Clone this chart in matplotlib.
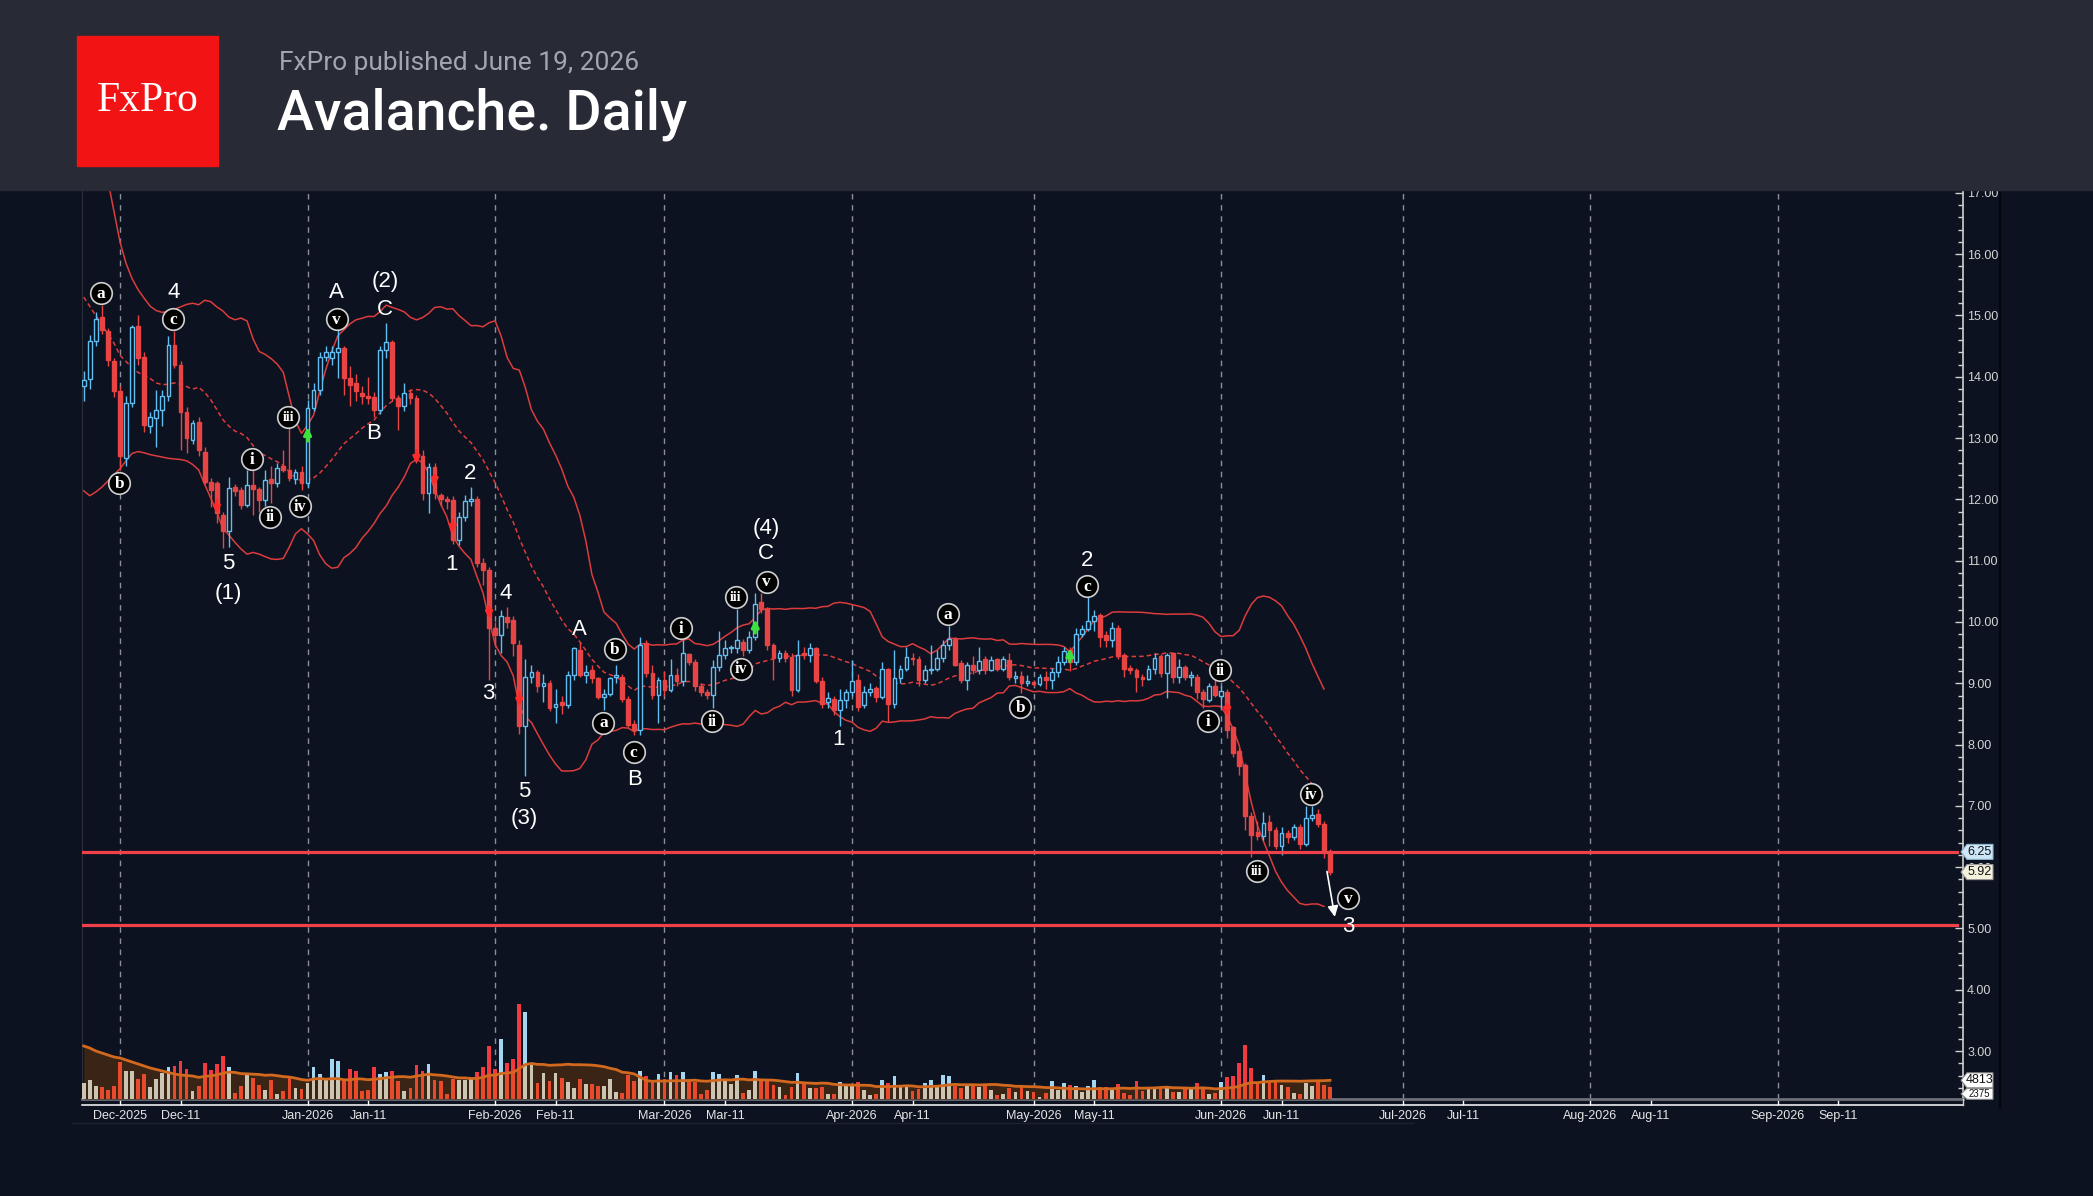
import numpy as np
import pandas as pd
import matplotlib
matplotlib.use('Agg')
import matplotlib.pyplot as plt
import matplotlib.dates as mdates
import matplotlib.ticker as mticker
import matplotlib.transforms as mtrans
from matplotlib.patches import Rectangle, Polygon
from matplotlib.lines import Line2D

# ---------------- data ----------------
start_date = '2025-11-25'

opens = [13.85, 13.96, 14.59, 14.97, 14.74, 14.25, 13.76, 12.67, 13.57, 14.83,
         14.33, 13.19, 13.32, 13.46, 13.68, 14.52, 14.19, 13.43, 12.97, 13.27,
         12.78, 12.29, 12.26, 11.75, 11.48, 12.20, 12.16, 11.91, 12.24, 12.17,
         11.99, 12.33, 12.26, 12.54, 12.48, 12.33, 12.45, 12.26, 13.49, 13.79,
         14.33, 14.30, 14.41, 14.47, 13.98, 13.90, 13.74, 13.68, 13.67, 13.46,
         14.44, 14.57, 13.65, 13.52, 13.73, 13.65, 12.70, 12.10, 12.53, 12.07,
         11.99, 11.99, 11.34, 11.72, 11.97, 12.00, 10.96, 10.85, 9.91, 9.79,
         10.08, 10.03, 9.62, 8.30, 9.11, 9.18, 8.96, 9.01, 8.61, 8.69,
         8.65, 9.14, 9.55, 9.14, 9.22, 9.08, 8.78, 8.83, 9.10, 9.11,
         8.74, 8.34, 8.24, 9.65, 9.17, 8.81, 9.06, 8.89, 9.14, 9.03,
         9.48, 9.35, 8.96, 8.86, 8.81, 9.27, 9.46, 9.57, 9.57, 9.68,
         9.54, 9.76, 10.32, 10.22, 9.62, 9.41, 9.49, 9.43, 8.89, 9.50,
         9.46, 9.57, 9.03, 8.70, 8.74, 8.57, 8.73, 8.86, 9.06, 8.65,
         8.86, 8.92, 8.78, 9.24, 8.67, 9.08, 9.24, 9.42, 9.39, 9.05,
         9.21, 9.24, 9.41, 9.63, 9.72, 9.33, 9.05, 9.30, 9.22, 9.39,
         9.22, 9.39, 9.24, 9.38, 9.09, 9.12, 9.00, 9.00, 8.99, 9.11,
         9.05, 9.18, 9.35, 9.54, 9.35, 9.81, 9.88, 10.01, 10.11, 9.79,
         9.71, 9.91, 9.46, 9.24, 9.22, 9.10, 9.07, 9.24, 9.44, 9.17,
         9.49, 9.11, 9.27, 9.11, 9.11, 8.86, 8.73, 8.95, 8.80, 8.86,
         8.28, 7.90, 7.67, 6.84, 6.58, 6.51, 6.74, 6.61, 6.35, 6.56,
         6.50, 6.65, 6.38, 6.81, 6.87, 6.71, 6.27]

highs = [14.10, 14.68, 15.06, 15.17, 14.80, 14.30, 13.85, 13.68, 14.85, 15.01,
         14.40, 13.42, 13.79, 13.79, 14.67, 14.74, 14.25, 13.50, 13.30, 13.35,
         12.85, 12.35, 12.30, 11.80, 12.37, 12.25, 12.20, 12.48, 12.48, 12.20,
         12.48, 12.54, 12.60, 12.81, 13.46, 12.50, 12.55, 13.62, 13.90, 14.40,
         14.50, 14.50, 14.77, 14.50, 14.17, 14.05, 13.85, 14.00, 13.75, 14.50,
         14.87, 14.60, 13.70, 13.90, 13.80, 13.70, 12.80, 12.60, 12.60, 12.10,
         12.05, 12.05, 11.80, 12.07, 12.21, 12.05, 11.05, 10.90, 10.00, 10.20,
         10.25, 10.10, 9.70, 9.40, 9.30, 9.22, 9.15, 9.05, 8.90, 8.80,
         9.20, 9.60, 9.68, 9.30, 9.30, 9.10, 8.90, 9.10, 9.30, 9.15,
         8.80, 8.40, 9.76, 9.70, 9.30, 9.10, 9.20, 9.40, 9.25, 9.70,
         9.50, 9.40, 9.00, 8.90, 9.38, 9.85, 9.70, 9.62, 10.22, 9.72,
         9.85, 10.47, 10.47, 10.25, 9.65, 9.55, 9.55, 9.50, 9.70, 9.60,
         9.65, 9.60, 9.10, 8.85, 8.80, 8.90, 8.90, 9.38, 9.15, 8.95,
         9.00, 8.95, 9.35, 9.25, 9.55, 9.30, 9.60, 9.50, 9.45, 9.30,
         9.62, 9.55, 9.70, 9.94, 9.76, 9.38, 9.35, 9.45, 9.60, 9.45,
         9.45, 9.42, 9.45, 9.50, 9.20, 9.20, 9.14, 9.05, 9.15, 9.20,
         9.25, 9.45, 9.60, 9.60, 9.90, 9.95, 10.41, 10.20, 10.15, 9.85,
         10.00, 9.95, 9.50, 9.30, 9.25, 9.15, 9.30, 9.50, 9.48, 9.50,
         9.50, 9.40, 9.30, 9.20, 9.15, 8.90, 9.00, 9.05, 8.95, 8.90,
         8.30, 7.95, 7.70, 6.90, 6.75, 6.90, 6.85, 6.65, 6.65, 6.60,
         6.70, 6.70, 7.00, 7.00, 6.95, 6.75, 6.30]

lows = [13.60, 13.80, 14.50, 14.70, 14.17, 13.67, 12.48, 12.55, 13.50, 14.20,
        13.10, 13.08, 12.86, 13.20, 13.60, 14.15, 12.81, 12.76, 12.90, 12.70,
        12.25, 11.88, 11.61, 11.20, 11.23, 12.05, 11.85, 11.88, 11.75, 11.80,
        11.90, 11.94, 12.20, 12.45, 12.30, 12.25, 12.15, 12.20, 13.45, 13.70,
        14.25, 14.20, 13.98, 13.70, 13.52, 13.60, 13.55, 13.55, 13.35, 13.40,
        14.30, 13.60, 13.13, 13.45, 13.55, 12.60, 11.99, 11.77, 12.00, 11.90,
        11.85, 11.28, 11.25, 11.65, 11.90, 10.90, 10.60, 9.05, 9.60, 9.50,
        9.90, 9.45, 8.18, 7.48, 9.00, 8.85, 8.70, 8.55, 8.35, 8.50,
        8.60, 9.05, 9.10, 9.00, 9.00, 8.75, 8.57, 8.80, 9.00, 8.70,
        8.28, 8.16, 8.15, 9.10, 8.75, 8.35, 8.80, 8.85, 8.95, 8.95,
        9.30, 8.88, 8.80, 8.75, 8.60, 9.20, 9.40, 9.50, 9.50, 9.45,
        9.50, 9.70, 10.15, 9.55, 9.05, 9.35, 9.35, 8.80, 8.85, 9.40,
        9.35, 9.00, 8.60, 8.60, 8.48, 8.30, 8.60, 8.80, 8.55, 8.60,
        8.80, 8.70, 8.75, 8.37, 8.60, 9.00, 9.20, 9.30, 8.95, 9.00,
        9.15, 9.20, 9.35, 9.55, 9.28, 9.00, 8.89, 9.15, 9.15, 9.15,
        9.20, 9.20, 9.20, 9.05, 9.00, 8.84, 8.95, 8.95, 8.95, 8.90,
        8.90, 9.10, 9.30, 9.20, 9.30, 9.75, 9.85, 9.85, 9.60, 9.60,
        9.60, 9.40, 9.10, 9.15, 8.86, 8.95, 9.05, 9.15, 9.10, 8.76,
        9.00, 9.00, 9.05, 8.95, 8.75, 8.60, 8.70, 8.78, 8.60, 8.10,
        7.80, 7.50, 6.60, 6.17, 6.45, 6.45, 6.35, 6.30, 6.20, 6.40,
        6.45, 6.30, 6.35, 6.75, 6.65, 6.15, 5.88]

closes = [13.95, 14.59, 14.94, 14.77, 14.28, 13.76, 12.70, 13.57, 14.82, 14.30,
          13.22, 13.35, 13.46, 13.68, 14.52, 14.19, 13.43, 13.00, 13.24, 12.81,
          12.29, 12.15, 11.77, 11.48, 12.18, 12.13, 11.91, 12.24, 12.17, 11.99,
          12.32, 12.26, 12.51, 12.48, 12.35, 12.44, 12.26, 13.49, 13.79, 14.33,
          14.41, 14.41, 14.47, 13.98, 13.87, 13.76, 13.68, 13.65, 13.46, 14.44,
          14.57, 13.65, 13.52, 13.73, 13.65, 12.70, 12.10, 12.53, 12.10, 12.00,
          11.97, 11.34, 11.72, 11.97, 12.01, 10.96, 10.85, 9.90, 9.79, 10.09,
          10.00, 9.65, 8.30, 9.11, 9.18, 8.96, 9.00, 8.59, 8.67, 8.65,
          9.14, 9.57, 9.14, 9.19, 9.08, 8.78, 8.83, 9.08, 9.11, 8.74,
          8.32, 8.24, 9.62, 9.16, 8.81, 9.05, 8.89, 9.14, 9.03, 9.49,
          9.35, 8.95, 8.86, 8.81, 9.27, 9.46, 9.57, 9.58, 9.70, 9.54,
          9.76, 10.30, 10.22, 9.62, 9.41, 9.49, 9.42, 8.89, 9.46, 9.46,
          9.57, 9.03, 8.67, 8.76, 8.57, 8.73, 8.86, 9.04, 8.62, 8.86,
          8.90, 8.78, 9.24, 8.67, 9.08, 9.24, 9.43, 9.39, 9.05, 9.21,
          9.24, 9.41, 9.63, 9.72, 9.30, 9.05, 9.30, 9.22, 9.37, 9.22,
          9.38, 9.24, 9.39, 9.11, 9.12, 9.01, 9.01, 8.99, 9.11, 9.05,
          9.18, 9.35, 9.52, 9.35, 9.81, 9.88, 10.01, 10.10, 9.76, 9.71,
          9.91, 9.44, 9.23, 9.22, 9.10, 9.07, 9.24, 9.41, 9.17, 9.46,
          9.11, 9.27, 9.11, 9.13, 8.86, 8.74, 8.95, 8.81, 8.88, 8.24,
          7.86, 7.65, 6.83, 6.53, 6.51, 6.72, 6.61, 6.35, 6.56, 6.50,
          6.65, 6.38, 6.81, 6.85, 6.71, 6.27, 5.92]

volumes = [16, 19.3, 13.3, 12, 8.7, 13.3, 36.7, 28.3, 28.3, 20,
           24.7, 12, 20, 26, 32, 32.7, 37.7, 30.3, 7.7, 13.3,
           36, 29.3, 35, 43.3, 32, 6, 13.3, 23.7, 21, 14.3,
           8.7, 18.7, 5.3, 7.7, 22.7, 11, 10, 16, 32, 25,
           20.3, 40, 37.7, 19.3, 30.3, 28.3, 7.7, 9.3, 31.7, 25,
           27, 28.3, 17.7, 7.7, 11, 34.3, 28.3, 35.3, 18.7, 17.7,
           5.3, 20, 19.3, 18.7, 20, 27, 31.7, 52.7, 30.3, 60,
           36, 40, 95, 87, 34, 16, 26, 17.7, 26, 21,
           16.7, 10.7, 20, 15.3, 15.3, 13.3, 13.3, 20, 6.7, 6,
           23.7, 17.7, 28.3, 22.7, 16.7, 25, 20.3, 27, 23.7, 27,
           17.7, 16.7, 5.3, 8.7, 27, 25, 19.3, 15.3, 23.7, 6,
           8.7, 28.3, 17.7, 20, 14.3, 12, 4.3, 12, 26, 16,
           11, 11, 12, 5.3, 5.3, 16.7, 15, 15, 16.7, 8.7,
           4.3, 5.3, 19.3, 16, 22.7, 13.3, 13.3, 7.7, 10, 16,
           19.3, 13.3, 23.7, 22.7, 12.7, 11, 15, 15, 12, 13.3,
           8.7, 4.3, 5.3, 11, 6.7, 12.7, 7.7, 6.7, 2.3, 5.7,
           18, 9, 15.7, 14, 13, 7.3, 13, 19, 11.7, 11.7,
           10.7, 15, 5.7, 4, 17.7, 8.3, 9.7, 9.7, 11.7, 11.7,
           7.3, 7.3, 11.7, 9.7, 16.3, 11.7, 5, 6.3, 17, 22.3,
           23.3, 36.3, 53.7, 31.3, 16.3, 24, 16.3, 18.3, 14, 11.7,
           5.7, 4.7, 16.3, 13, 17.3, 14, 11.7]

# indicator values for the first 19 sessions (their 20-day window is off-chart)
bb_upper_start = [19.0, 18.5, 18.0, 17.5, 17.2, 16.7, 16.2, 15.85, 15.6, 15.42,
                  15.28, 15.15, 15.08, 15.05, 15.07, 15.1, 15.14, 15.18, 15.2]
bb_mid_start = [15.3, 15.15, 15.0, 14.85, 14.7, 14.55, 14.35, 14.25, 14.15, 14.07,
                14.02, 13.97, 13.9, 13.87, 13.88, 13.9, 13.88, 13.84, 13.8]
bb_lower_start = [12.14, 12.06, 12.12, 12.2, 12.3, 12.4, 12.5, 12.63, 12.75, 12.78,
                  12.76, 12.73, 12.71, 12.69, 12.67, 12.66, 12.65, 12.63, 12.57]
vol_ma_start = [53, 51, 48, 46, 44, 42, 41, 39, 37, 35, 33, 31, 29.5, 28, 26.5,
                25, 24, 23.5, 23]

levels = [6.25, 5.06]

# Elliott wave labels: (text, day offset from start, price)
wave_plain = [('4', 14.8, 15.37), ('5', 23.9, 10.96), ('(1)', 23.9, 10.47),
              ('A', 41.8, 15.37), ('(2)', 49.9, 15.56), ('C', 49.8, 15.09),
              ('B', 47.9, 13.08), ('1', 60.8, 10.93), ('2', 63.9, 12.42),
              ('3', 66.9, 8.84), ('4', 69.7, 10.47), ('5', 72.8, 7.23),
              ('(3)', 72.8, 6.80), ('A', 81.9, 9.88), ('B', 91.0, 7.43),
              ('C', 112.8, 11.12), ('(4)', 112.8, 11.53), ('1', 124.8, 8.08),
              ('2', 165.8, 11.01), ('3', 209.0, 5.04)]
wave_circled = [('a', 2.8, 15.37), ('b', 5.9, 12.26), ('c', 14.8, 14.94),
                ('i', 27.8, 12.66), ('ii', 30.8, 11.72), ('iii', 33.8, 13.35),
                ('iv', 35.75, 11.89), ('v', 41.8, 14.94), ('a', 85.9, 8.36),
                ('b', 87.8, 9.56), ('c', 90.9, 7.88), ('i', 98.8, 9.90),
                ('ii', 103.8, 8.39), ('iii', 107.8, 10.41), ('iv', 108.7, 9.24),
                ('v', 112.9, 10.66), ('a', 142.8, 10.13), ('b', 154.8, 8.62),
                ('c', 165.8, 10.58), ('i', 185.8, 8.38), ('ii', 187.8, 9.21),
                ('iii', 193.9, 5.94), ('iv', 202.8, 7.19), ('v', 209.0, 5.49)]

# signal arrows: (day offset, tail price, head price)
green_arrows = [(37, 12.95, 13.18), (111, 9.82, 10.04), (163, 9.35, 9.57)]
red_arrows = [(22, 12.0, 11.77), (55, 12.8, 12.58), (58, 12.4, 12.22),
              (61, 11.66, 11.45), (67, 10.25, 10.05), (72, 8.86, 8.62),
              (189, 8.66, 8.47)]
forecast_arrow = (205.5, 5.93, 206.8, 5.19)

tag_price_last = '6.25'
tag_close = '5.92'
tag_vol_ma = '4813'
tag_vol = '2375'

# ---------------- style ----------------
W, H = 2093, 1196
BG = '#0c1220'
HEADER = '#282a36'
BLUE = '#62bdf0'
RED = '#e84444'
BBRED = '#dc3c3c'
SANS = ['Liberation Sans', 'DejaVu Sans']
SERIF = ['Liberation Serif', 'DejaVu Serif']

fig = plt.figure(figsize=(W / 100, H / 100), dpi=100)
fig.patch.set_facecolor(BG)


def fx(px):
    return px / W


def fy(py):
    return 1 - py / H


L_PX, R_PX, T_PX, B_PX = 81.7, 1963.0, 190.0, 1099.0
ax = fig.add_axes([fx(L_PX), fy(B_PX), (R_PX - L_PX) / W, (B_PX - T_PX) / H])
ax.set_facecolor(BG)
vax = fig.add_axes([fx(L_PX), fy(B_PX), (R_PX - L_PX) / W, 100 / H])
vax.set_facecolor('none')

dates = pd.date_range(start_date, periods=len(closes), freq='D')
x = mdates.date2num(dates)
x0 = x[0]
o = np.array(opens); h = np.array(highs); l = np.array(lows); c = np.array(closes)
up = c >= o

ax.set_xlim(x0 - 0.331, x0 + 310.63)
ax.set_ylim(2.2186, 17.047)
vax.set_xlim(ax.get_xlim())
vax.set_ylim(0, 100)

# month separators
for md in pd.date_range('2025-12-01', '2026-09-01', freq='MS'):
    ax.axvline(mdates.date2num(md), color='#8a8f99', lw=1.0, dashes=(4, 4), zorder=1)

# Bollinger bands (20, 2)
cs = pd.Series(closes)
mid = cs.rolling(20).mean().to_numpy()
sd = cs.rolling(20).std(ddof=0).to_numpy()
bb_u = mid + 2 * sd
bb_l = mid - 2 * sd
n0 = len(bb_upper_start)
bb_u[:n0] = bb_upper_start
bb_l[:n0] = bb_lower_start
mid[:n0] = bb_mid_start
end = len(closes) - 1
ax.plot(x[:end], bb_u[:end], color=BBRED, lw=1.1, zorder=2)
ax.plot(x[:end], bb_l[:end], color=BBRED, lw=1.1, zorder=2)
ax.plot(x[:end], mid[:end], color=BBRED, lw=1.1, dashes=(3, 2), zorder=2)

# candles
col = np.where(up, BLUE, RED)
ax.vlines(x, l, h, colors=col, lw=1.0, zorder=3)
body_b = np.minimum(o, c)
body_h = np.maximum(np.abs(c - o), 0.03)
ax.bar(x, body_h, bottom=body_b, width=0.62, color=np.where(up, BG, RED),
       edgecolor=col, linewidth=1.0, zorder=4)

# levels
for lv in levels:
    ax.axhline(lv, xmin=0, xmax=0.9968, color='#f0404a', lw=2.3, zorder=5)

# signal arrows
for d, p0, p1 in green_arrows:
    ax.annotate('', xy=(x0 + d, p1), xytext=(x0 + d, p0),
                arrowprops=dict(arrowstyle='-|>', color='#3ee03e', lw=2.2,
                                mutation_scale=11, shrinkA=0, shrinkB=0), zorder=6)
for d, p0, p1 in red_arrows:
    ax.annotate('', xy=(x0 + d, p1), xytext=(x0 + d, p0),
                arrowprops=dict(arrowstyle='-|>', color='#ff2a2a', lw=2.0,
                                mutation_scale=10, shrinkA=0, shrinkB=0), zorder=6)
fd0, fp0, fd1, fp1 = forecast_arrow
ax.annotate('', xy=(x0 + fd1, fp1), xytext=(x0 + fd0, fp0),
            arrowprops=dict(arrowstyle='-|>', color='white', lw=1.2,
                            mutation_scale=16, shrinkA=0, shrinkB=0), zorder=6)

# wave labels
for t, d, p in wave_plain:
    ax.text(x0 + d, p, t, color='white', fontsize=16, family=SANS,
            ha='center', va='center', zorder=8)
for t, d, p in wave_circled:
    ax.plot([x0 + d], [p], marker='o', ms=15.5, mfc='black', mec='#d0d0d0',
            mew=1.2, zorder=8)
    fs = 12.5 if len(t) == 1 else (11.5 if len(t) == 2 else 10)
    ax.text(x0 + d, p - 0.015, t, color='white', fontsize=fs,
            family=SERIF, fontweight='bold',
            ha='center', va='center', zorder=9)

# axes styling
ax.spines['top'].set_visible(False)
ax.spines['left'].set_color('#2b303b')
ax.spines['right'].set_color('#d0d0d0')
ax.spines['right'].set_linewidth(1.2)
ax.spines['bottom'].set_color('#6d7078')
ax.spines['bottom'].set_linewidth(2.0)
for s in vax.spines.values():
    s.set_visible(False)
vax.set_xticks([]); vax.set_yticks([])

ax.yaxis.tick_right()
ax.set_yticks(np.arange(3, 18, 1))
ax.yaxis.set_major_formatter(mticker.FormatStrFormatter('%.2f'))
ax.yaxis.set_minor_locator(mticker.MultipleLocator(0.2))
ax.tick_params(axis='y', which='major', direction='in', length=6, width=1,
               color='#d0d0d0', labelcolor='#d4d4d4', labelsize=9, pad=3)
ax.tick_params(axis='y', which='minor', direction='in', length=3.5, width=1,
               color='#d0d0d0')
for lab in ax.get_yticklabels():
    lab.set_family(SANS)

tick_dates = []
for md in pd.date_range('2025-12-01', '2026-09-01', freq='MS'):
    tick_dates.append(md)
    tick_dates.append(md + pd.Timedelta(days=10))
ax.set_xticks(mdates.date2num(tick_dates))
ax.set_xticklabels([td.strftime('%b-%Y') if td.day == 1 else td.strftime('%b-11')
                    for td in tick_dates])
ax.tick_params(axis='x', direction='out', length=4, width=1, color='white',
               labelcolor='#e6e6e6', labelsize=9, pad=4)
for lab in ax.get_xticklabels():
    lab.set_family(SANS)

# volume
v = np.array(volumes)
vs = pd.Series(volumes)
vma = vs.rolling(20).mean().to_numpy()
vma[:len(vol_ma_start)] = vol_ma_start
vax.fill_between(x, 0, vma, color='#3a2416', zorder=1, lw=0)
low_part = np.minimum(v, vma)
hi_part = np.clip(v - vma, 0, None)
vax.bar(x, low_part, width=0.62, color=np.where(up, '#cbc5b2', '#e84a2c'), zorder=2)
vax.bar(x, hi_part, bottom=low_part, width=0.62,
        color=np.where(up, '#a4d6f2', '#f23a3e'), zorder=2)
vax.plot(x, vma, color='#d2691e', lw=2.0, zorder=3)


# ---------------- right-side value tags ----------------
def tag(ypix, text, fc, ec, fs=9, hh=7.5, z=20):
    xl = R_PX - 2
    xr = xl + 32
    pts = [(xl, ypix), (xl + 6, ypix - hh), (xr, ypix - hh), (xr, ypix + hh),
           (xl + 6, ypix + hh)]
    fig.add_artist(Polygon(pts, closed=True, transform=mtrans.IdentityTransform(),
                           fc=fc, ec=ec, lw=0.8, zorder=z))
    fig.text((xl + 5 + xr) / 2 / W, ypix / H, text, ha='center', va='center',
             fontsize=fs, family=SANS, color='#111111', zorder=z + 1)


def ypix_of(axis, val):
    return axis.transData.transform((x0, val))[1]


y_ma = ypix_of(vax, vma[-1])
tag(y_ma - 13.5, tag_vol, 'white', '#888888', fs=7, hh=5.5, z=20)
tag(y_ma, tag_vol_ma, 'white', '#888888', z=22)
tag(ypix_of(ax, c[-1]), tag_close, '#f4f2dc', '#9a9a9a', z=24)
tag(ypix_of(ax, float(tag_price_last)), tag_price_last, '#cde7f7', '#8fb4cc', z=26)

# frame lines
fig.add_artist(Line2D([fx(L_PX), fx(R_PX)], [fy(1104.5), fy(1104.5)], color='white',
                      lw=1.1, zorder=15))
fig.add_artist(Line2D([fx(R_PX), fx(R_PX)], [fy(1099), fy(1105)], color='#d0d0d0',
                      lw=1.0, zorder=15))
fig.add_artist(Line2D([fx(2000), fx(2000)], [fy(190), fy(1107)], color='#03060c',
                      lw=1.5, zorder=15))
fig.add_artist(Line2D([fx(72), fx(1413)], [fy(1123), fy(1123)], color='#1c2230',
                      lw=1.0, zorder=15))

# ---------------- header ----------------
fig.add_artist(Rectangle((0, fy(190)), 1, 190 / H, transform=fig.transFigure,
                         color=HEADER, zorder=30))
fig.add_artist(Rectangle((fx(77), fy(166)), 141 / W, 130 / H, transform=fig.transFigure,
                         color='#f21414', zorder=31))
fig.text(fx(148), fy(101), 'FxPro', ha='center', va='center', color='white',
         fontsize=30, family=SERIF, zorder=32)
fig.text(fx(279), fy(63), 'FxPro published June 19, 2026', ha='left', va='center',
         color='#a3a6ae', fontsize=19, family=['Roboto', 'DejaVu Sans'], zorder=32)
fig.text(fx(277), fy(114), 'Avalanche. Daily', ha='left', va='center',
         color='white', fontsize=40, fontweight='medium',
         family=['Roboto', 'DejaVu Sans'], zorder=32)

fig.savefig('out.png', dpi=100, facecolor=BG)
